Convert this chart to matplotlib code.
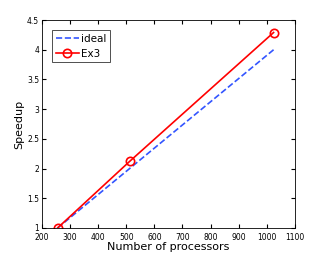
import matplotlib
matplotlib.use('Agg')
import matplotlib.pyplot as plt

procs = [256, 512, 1024]
ideal = [1, 2, 4]
ex3 = [1, 2.12, 4.29]

fig = plt.figure(figsize=(3.27, 2.57), dpi=100)
ax = fig.add_axes([0.128, 0.113, 0.774, 0.809])
ax.plot(procs, ideal, '--', color='#3355ff', lw=1.2, label='ideal')
ax.plot(procs, ex3, '-o', color='red', lw=1.2, ms=6, mfc='none', mew=1.2, label='Ex3')
ax.set_xlim(200, 1100)
ax.set_ylim(1, 4.5)
ax.set_xticks(range(200, 1101, 100))
ax.set_yticks([1, 1.5, 2, 2.5, 3, 3.5, 4, 4.5])
ax.set_yticklabels(['1', '1.5', '2', '2.5', '3', '3.5', '4', '4.5'])
ax.tick_params(labelsize=5.5, direction='in', length=3, top=True, right=True)
ax.tick_params(axis='x', pad=3.5)
ax.tick_params(axis='y', pad=2)
ax.set_xlabel('Number of processors', fontsize=8, labelpad=0)
ax.set_ylabel('Speedup', fontsize=8, labelpad=2)
leg = ax.legend(loc='upper left', fontsize=7.5, fancybox=False, edgecolor='black',
                handlelength=2.2, borderpad=0.35, labelspacing=0.45, handletextpad=0.2,
                borderaxespad=1.0)
leg.get_frame().set_linewidth(0.6)
for s in ax.spines.values():
    s.set_linewidth(0.6)
fig.savefig('out.png', dpi=100)
